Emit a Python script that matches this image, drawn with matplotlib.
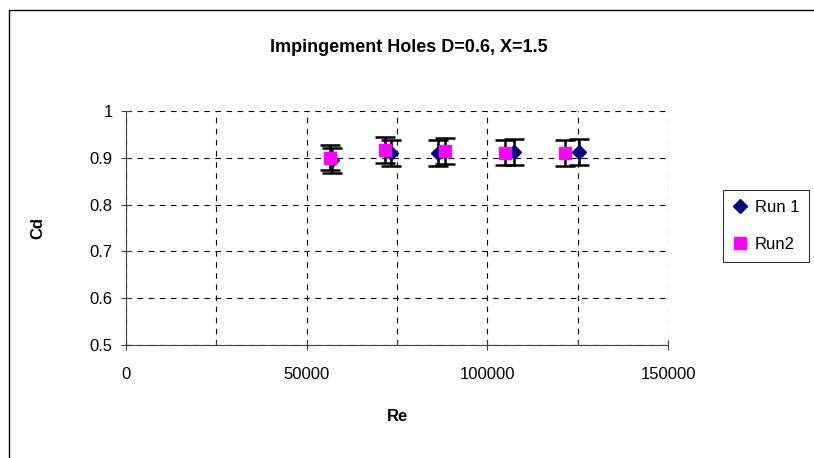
import numpy as np
import matplotlib
matplotlib.use("Agg")
from matplotlib import pyplot as plt
from matplotlib.patches import Rectangle

plt.rcParams['font.family'] = ['Liberation Sans', 'DejaVu Sans']

# data
re_run1 = [57000, 73400, 86400, 107400, 125500]
cd_run1 = [0.895, 0.910, 0.910, 0.913, 0.913]
re_run2 = [56500, 71600, 88400, 104800, 121500]
cd_run2 = [0.900, 0.916, 0.914, 0.911, 0.910]
err_pct = 0.03

x_ticks = [0, 50000, 100000, 150000]
y_ticks = [0.5, 0.6, 0.7, 0.8, 0.9, 1.0]
y_labels = ["0.5", "0.6", "0.7", "0.8", "0.9", "1"]


def main():
    W, H = 814, 458
    fig = plt.figure(figsize=(W / 100, H / 100), dpi=100)

    # outer chart-area frame
    fig.patches.append(Rectangle((9 / W, -0.05), 1.1, 1 - 10 / H + 0.05,
                                 transform=fig.transFigure, fill=False,
                                 edgecolor="black", linewidth=1.0))

    left, right = 126 / W, 668 / W
    top, bottom = 1 - 111 / H, 1 - 345 / H
    ax = fig.add_axes([left, bottom, right - left, top - bottom])

    ax.errorbar(re_run1, cd_run1, yerr=np.array(cd_run1) * err_pct, fmt="none",
                ecolor="black", elinewidth=1.8, capsize=7, capthick=1.8, zorder=3)
    ax.errorbar(re_run2, cd_run2, yerr=np.array(cd_run2) * err_pct, fmt="none",
                ecolor="black", elinewidth=1.8, capsize=7, capthick=1.8, zorder=3)
    ax.plot(re_run1, cd_run1, linestyle="none", marker="D", markersize=7,
            color="#000080", label="Run 1", zorder=4)
    ax.plot(re_run2, cd_run2, linestyle="none", marker="s", markersize=8.5,
            color="#FF00FF", label="Run2", zorder=4)

    ax.set_xlim(0, 150000)
    ax.set_ylim(0.5, 1.0)
    ax.set_xticks(x_ticks)
    ax.set_xticklabels([str(t) for t in x_ticks])
    ax.set_xticks(np.arange(0, 150001, 25000), minor=True)
    ax.set_yticks(y_ticks)
    ax.set_yticklabels(y_labels)

    ax.grid(True, which="both", axis="x", color="black", linestyle=(0, (5, 5)), linewidth=0.8)
    ax.grid(True, which="major", axis="y", color="black", linestyle=(0, (5, 5)), linewidth=0.8)
    ax.set_axisbelow(True)
    for s in ["top", "right"]:
        ax.spines[s].set_visible(False)
    for s in ["left", "bottom"]:
        ax.spines[s].set_color("#404040")
    ax.tick_params(which="major", direction="inout", length=7, width=0.8,
                   color="#404040", labelsize=12)
    ax.tick_params(axis="x", which="major", pad=12)
    ax.tick_params(axis="y", which="major", pad=6)
    ax.tick_params(which="minor", direction="in", length=3, width=0.8, color="#404040")

    ax.set_xlabel("Re", fontsize=12, fontweight="bold", labelpad=20)
    ax.set_ylabel("Cd", fontsize=12, fontweight="bold", labelpad=32)
    fig.text(409 / W, 1 - 48 / H, "Impingement Holes D=0.6, X=1.5", ha="center",
             va="center", fontsize=13, fontweight="bold")

    leg = fig.legend(loc="upper left", bbox_to_anchor=(723 / W, 1 - 190 / H),
                     fontsize=12, frameon=True, fancybox=False, borderpad=0.6,
                     handletextpad=0.5, handlelength=0.8, labelspacing=1.3,
                     borderaxespad=0)
    leg.get_frame().set_edgecolor("black")
    leg.get_frame().set_linewidth(0.8)

    fig.savefig("out.png", dpi=100)


if __name__ == "__main__":
    main()
